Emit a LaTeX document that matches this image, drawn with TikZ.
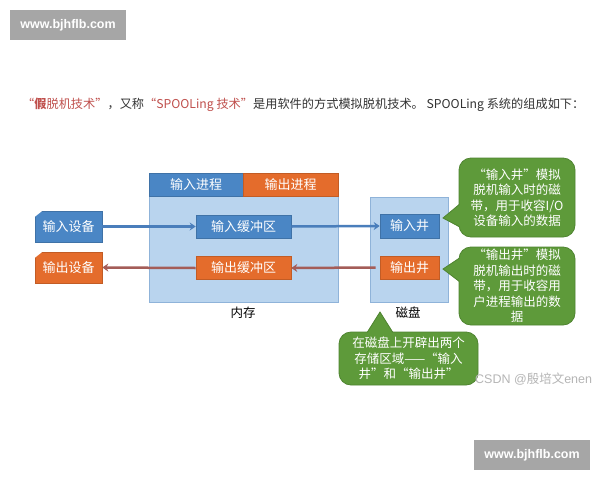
\documentclass[tikz,border=0pt]{standalone}
\usepackage{fontspec}
\setmainfont{Noto Sans CJK SC}
\newfontfamily\wmfont{Liberation Sans}
\usetikzlibrary{arrows.meta}
\definecolor{boxblue}{HTML}{4A86C5}
\definecolor{boxorange}{HTML}{E46C2C}
\definecolor{memblue}{HTML}{B9D4EE}
\definecolor{memedge}{HTML}{8FB3D9}
\definecolor{cgreen}{HTML}{5E9A3A}
\definecolor{cgreenedge}{HTML}{4F8431}
\definecolor{arrblue}{HTML}{4A7EBB}
\definecolor{arrred}{HTML}{A45D58}
\definecolor{titlered}{HTML}{C0504D}
\definecolor{titletext}{HTML}{333333}
\definecolor{wmgray}{HTML}{A6A6A6}
\definecolor{csdngray}{HTML}{B5B5B5}
\tikzset{
  bluebox/.style={fill=boxblue, draw=boxblue!85!black, line width=0.6pt, text=white, inner sep=0pt, font=\fontsize{13}{15}\selectfont},
  orangebox/.style={fill=boxorange, draw=boxorange!85!black, line width=0.6pt, text=white, inner sep=0pt, font=\fontsize{13}{15}\selectfont},
  membox/.style={fill=memblue, draw=memedge, line width=0.8pt, inner sep=0pt},
  callout/.style={fill=cgreen, draw=cgreenedge, line width=0.8pt, rounded corners=12pt, text=white, inner sep=0pt, align=center, font=\fontsize{12.5}{15.5}\selectfont},
  lbl/.style={text=black, font=\fontsize{12.5}{14}\selectfont, inner sep=0pt},
  bluearrow/.style={draw=arrblue, line width=2.5pt, -{Stealth[length=6pt,width=8pt]}},
  redarrow/.style={draw=arrred, line width=2.5pt, -{Stealth[length=6pt,width=8pt]}},
  wm/.style={fill=wmgray, text=white, inner sep=0pt, minimum width=116pt, minimum height=30pt, font=\wmfont\bfseries\fontsize{12.5}{14}\selectfont}
}
\begin{document}
\begin{tikzpicture}[x=1pt,y=-1pt]
\useasboundingbox[fill=white] (0,0) rectangle (600,480);

% watermarks
\node[wm] (wm1) at (68,25) {www.bjhflb.com};
\node[wm] (wm2) at (532,455) {www.bjhflb.com};

% title
\node[anchor=west, inner sep=0pt, text=titletext, font=\fontsize{12.2}{14}\selectfont] (title) at (22,105)
 {\textcolor{titlered}{“\textbf{\textit{假}}脱机技术”}，又称\textcolor{titlered}{“SPOOLing 技术”}是用软件的方式模拟脱机技术。 SPOOLing 系统的组成如下：};

% memory
\node[membox, minimum width=189pt, minimum height=106pt] (mem) at (243.5,249) {};
\node[bluebox, minimum width=94pt, minimum height=23pt] (inproc) at (196,184.5) {输入进程};
\node[orangebox, minimum width=95pt, minimum height=23pt] (outproc) at (290.5,184.5) {输出进程};
\node[bluebox, minimum width=95pt, minimum height=23pt] (inbuf) at (243.5,226.5) {输入缓冲区};
\node[orangebox, minimum width=95pt, minimum height=23pt] (outbuf) at (243.5,268) {输出缓冲区};
\node[lbl] (memlabel) at (243,313) {内存};

% disk
\node[membox, minimum width=78pt, minimum height=105pt] (disk) at (409,249.5) {};
\node[bluebox, minimum width=59pt, minimum height=24pt] (inwell) at (409.5,226) {输入井};
\node[orangebox, minimum width=59pt, minimum height=23pt] (outwell) at (409.5,267.5) {输出井};
\node[lbl] (disklabel) at (408,313) {磁盘};

% devices
\node[bluebox, minimum width=67pt, minimum height=31pt] (indev) at (68.5,226.5) {输入设备};
\node[orangebox, minimum width=67pt, minimum height=31pt] (outdev) at (68.5,267.5) {输出设备};
\fill[white] ([shift={(-1,-1)}]indev.north west) -- ++(10,0) -- ++(-10,8) -- cycle;
\fill[white] ([shift={(-1,-1)}]outdev.north west) -- ++(10,0) -- ++(-10,8) -- cycle;

% arrows
\draw[bluearrow] (indev.east) -- (inbuf.west);
\draw[bluearrow] (inbuf.east) -- (inwell.west);
\draw[redarrow] ([xshift=-4pt]outwell.west) -- (outbuf.east);
\draw[redarrow] (outbuf.west) -- (outdev.east);

% callouts
\node[callout, minimum width=116pt, minimum height=79pt] (call1) at (517,197.5)
 {“输入井”模拟\\脱机输入时的磁\\带，用于收容I/O\\设备输入的数据};
\node[callout, minimum width=116pt, minimum height=78pt] (call2) at (517,286)
 {“输出井”模拟\\脱机输出时的磁\\带，用于收容用\\户进程输出的数\\据};
\node[callout, minimum width=139pt, minimum height=53pt] (call3) at (408.5,358.5)
 {在磁盘上开辟出两个\\存储区域——“输入\\井”和“输出井”};

\fill[cgreen] (443,218) -- (461,203) -- (461,228) -- cycle;
\draw[cgreenedge, line width=0.8pt] (459.4,204.3) -- (443,218) -- (459.4,226.7);
\fill[cgreen] (443,269) -- (461,257) -- (461,283) -- cycle;
\draw[cgreenedge, line width=0.8pt] (459.4,258.1) -- (443,269) -- (459.4,281.5);
\fill[cgreen] (380,312) -- (366,334) -- (394,334) -- cycle;
\draw[cgreenedge, line width=0.8pt] (367.2,332.4) -- (380,312) -- (392.8,332.4);

% csdn watermark
\node[anchor=west, inner sep=0pt, text=csdngray, font=\fontsize{12.5}{15}\selectfont] (csdn) at (475,379)
 {{\wmfont CSDN @}殷培文{\wmfont enen}};
\end{tikzpicture}
\end{document}
